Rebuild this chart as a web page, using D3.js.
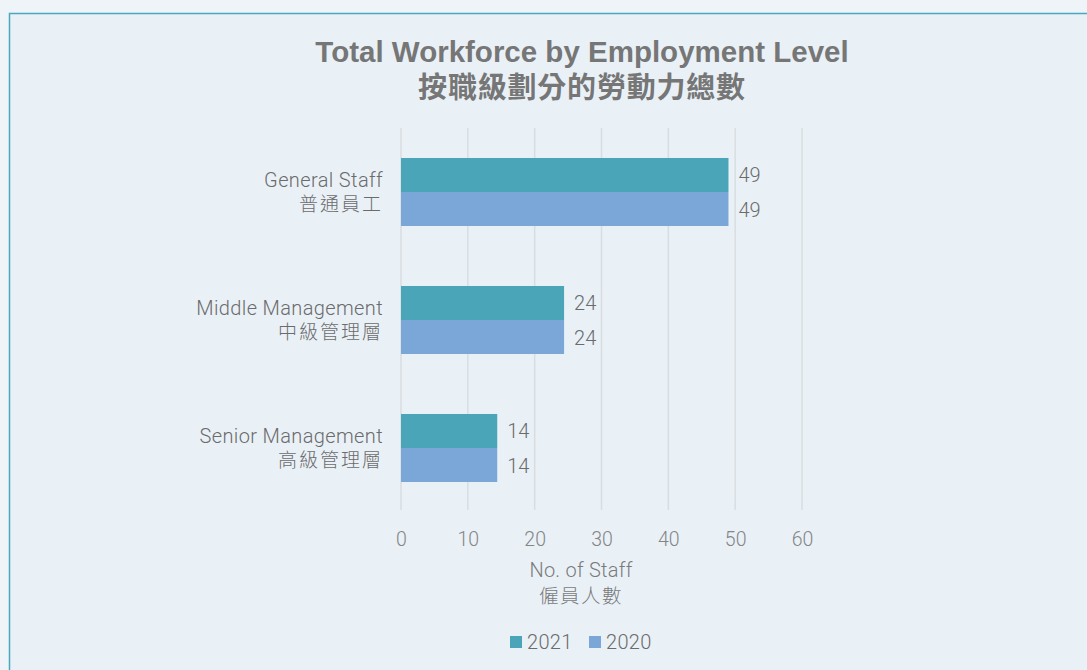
<!DOCTYPE html>
<html>
<head>
<meta charset="utf-8">
<script src="https://cdn.jsdelivr.net/npm/d3@7"></script>
<style>
  html, body { margin: 0; padding: 0; background: #eef4f7; }
  svg { display: block; }
</style>
</head>
<body>
<svg id="chart" width="1087" height="670"></svg>
<script>
// ---- data ----
const categoriesEn = ["General Staff", "Middle Management", "Senior Management"];
const categoriesZh = ["普通員工", "中級管理層", "高級管理層"];
const seriesNames = ["2021", "2020"];
const values2021 = [49, 24.4, 14.4];
const values2020 = [49, 24.4, 14.4];
const xTicks = [0, 10, 20, 30, 40, 50, 60];
const titleLines = ["Total Workforce by Employment Level", "按職級劃分的勞動力總數"];
const axisTitleLines = ["No. of Staff", "僱員人數"];

// ---- layout ----
const svg = d3.select("#chart");
const W = 1087, H = 670;
const colors = { "2021": "#4ba5b9", "2020": "#7ba7d8" };
const fontLatin = "Roboto, 'Liberation Sans', Arial, sans-serif";
const fontCJK = "'Noto Sans CJK TC', 'Noto Sans CJK SC', sans-serif";

// panel
svg.append("rect").attr("x", 0).attr("y", 0).attr("width", W).attr("height", H).attr("fill", "#eef4f7");
svg.append("rect").attr("x", 9.5).attr("y", 13.5).attr("width", W + 20).attr("height", H + 20)
  .attr("fill", "#e9f1f7").attr("stroke", "#4aa8c1").attr("stroke-width", 1.5);

const x = d3.scaleLinear().domain([0, 60]).range([401, 802]);
const y0 = d3.scaleBand().domain(categoriesEn).range([128, 512]).padding(0);
const y1 = d3.scaleBand().domain(seriesNames).range([0, y0.bandwidth()]).paddingInner(0).paddingOuter(0.882);

// gridlines
svg.append("g").selectAll("line").data(xTicks).join("line")
  .attr("x1", d => x(d)).attr("x2", d => x(d))
  .attr("y1", 128).attr("y2", 510)
  .attr("stroke", "#d9dde0").attr("stroke-width", 1.5);

// x axis tick labels
const xAxis = d3.axisBottom(x).tickValues(xTicks).tickSize(0).tickPadding(0);
const gx = svg.append("g").attr("transform", "translate(0,530)").call(xAxis);
gx.select(".domain").remove();
gx.selectAll("text")
  .attr("dy", 0).attr("y", 16)
  .attr("font-family", fontLatin).attr("font-weight", 300).attr("font-size", 19.5)
  .attr("fill", "#858585");

// bars
const rows = categoriesEn.map((c, i) => ({ cat: c, vals: [
  { s: "2021", v: values2021[i] }, { s: "2020", v: values2020[i] } ] }));

const groups = svg.append("g").selectAll("g").data(rows).join("g")
  .attr("transform", d => `translate(0,${y0(d.cat)})`);

groups.selectAll("rect").data(d => d.vals).join("rect")
  .attr("x", x(0)).attr("y", d => y1(d.s))
  .attr("width", d => x(d.v) - x(0)).attr("height", y1.bandwidth())
  .attr("fill", d => colors[d.s]);

groups.selectAll("text.val").data(d => d.vals).join("text").attr("class", "val")
  .attr("x", d => x(d.v) + 10)
  .attr("y", d => y1(d.s) + y1.bandwidth() / 2 + 7.5)
  .attr("font-family", fontLatin).attr("font-weight", 300).attr("font-size", 20)
  .attr("fill", "#6b6b6b")
  .text(d => d3.format(".0f")(d.v));

// category labels (two lines in one text)
const labG = svg.append("g");
categoriesEn.forEach((c, i) => {
  const cy = y0(c) + y0.bandwidth() / 2;
  const t = labG.append("text").attr("x", 383).attr("y", cy - 5).attr("text-anchor", "end")
    .attr("fill", "#6b6b6b");
  t.append("tspan").attr("x", 383).attr("y", cy - 5)
    .attr("font-family", fontLatin).attr("font-weight", 300).attr("font-size", 20)
    .attr("letter-spacing", 0.37).text(c);
  t.append("tspan").attr("x", 383).attr("y", cy + 19)
    .attr("font-family", fontCJK).attr("font-weight", 300).attr("font-size", 19)
    .attr("letter-spacing", 2).text(categoriesZh[i]);
});

// title
const title = svg.append("text").attr("text-anchor", "middle").attr("fill", "#767676");
title.append("tspan").attr("x", 582).attr("y", 62)
  .attr("font-family", "'Liberation Sans', Arial, sans-serif").attr("font-weight", 700).attr("font-size", 29.5)
  .text(titleLines[0]);
title.append("tspan").attr("x", 582).attr("y", 98)
  .attr("font-family", fontCJK).attr("font-weight", 700).attr("font-size", 29)
  .attr("letter-spacing", 0.8).text(titleLines[1]);

// axis title
const at = svg.append("text").attr("text-anchor", "middle").attr("fill", "#7a7a7a");
at.append("tspan").attr("x", 581).attr("y", 577)
  .attr("font-family", fontLatin).attr("font-weight", 300).attr("font-size", 20)
  .attr("letter-spacing", 0.25).text(axisTitleLines[0]);
at.append("tspan").attr("x", 581).attr("y", 603)
  .attr("font-family", fontCJK).attr("font-weight", 300).attr("font-size", 19.5)
  .attr("letter-spacing", 1.5).text(axisTitleLines[1]);

// legend
const legend = svg.append("g");
const legX = [510, 589];
seriesNames.forEach((s, i) => {
  legend.append("rect").attr("x", legX[i]).attr("y", 636).attr("width", 12).attr("height", 12)
    .attr("fill", colors[s]);
  legend.append("text").attr("x", legX[i] + 17).attr("y", 649)
    .attr("font-family", fontLatin).attr("font-weight", 300).attr("font-size", 20)
    .attr("letter-spacing", 0.3)
    .attr("fill", "#6b6b6b").text(s);
});
</script>
</body>
</html>
